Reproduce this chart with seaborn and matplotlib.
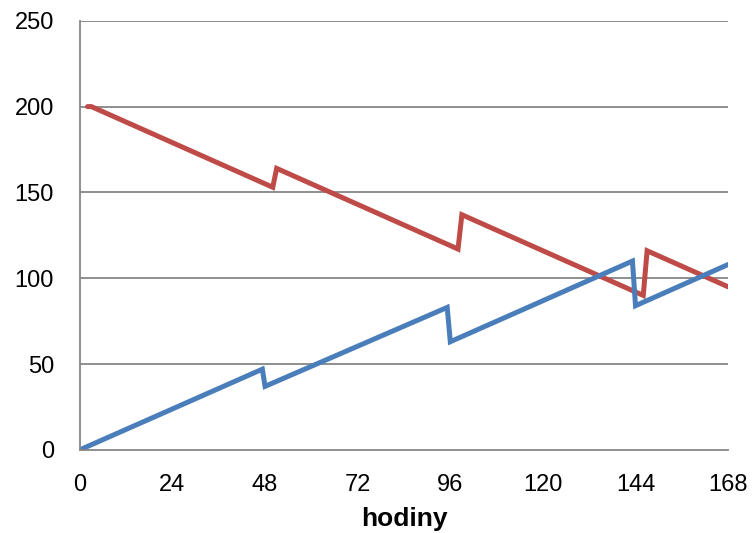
import pandas as pd
import matplotlib
matplotlib.use("Agg")
import matplotlib.pyplot as plt
import seaborn as sns

# values
blue_hours = [0, 47.3, 48, 95.2, 96, 143.2, 144, 168]
blue_values = [0, 47, 37, 83, 63, 110, 84, 108]
red_hours = [2, 3, 50, 51, 98, 99, 146, 147, 168]
red_values = [200, 200, 153, 164, 117, 137, 90, 116, 95]
x_ticks = [0, 24, 48, 72, 96, 120, 144, 168]
y_ticks = [0, 50, 100, 150, 200, 250]

sns.set_style("white")
plt.rcParams["font.family"] = ["Liberation Sans", "DejaVu Sans"]

blue_df = pd.DataFrame({"hodiny": blue_hours, "value": blue_values})
red_df = pd.DataFrame({"hodiny": red_hours, "value": red_values})

fig = plt.figure(figsize=(7.53, 5.33), dpi=100)
ax = fig.add_axes([0.106, 0.156, 0.861, 0.805])

for y in y_ticks[1:]:
    ax.axhline(y, color="#868686", lw=1.3, zorder=0)

sns.lineplot(data=red_df, x="hodiny", y="value", sort=False, color="#BE4B48",
             lw=3.6, ax=ax, solid_joinstyle="miter", solid_capstyle="round")
sns.lineplot(data=blue_df, x="hodiny", y="value", sort=False, color="#4A7EBB",
             lw=3.6, ax=ax, solid_joinstyle="miter", solid_capstyle="round")

ax.set_xlim(0, 168)
ax.set_ylim(0, 250)
ax.set_xticks(x_ticks)
ax.set_yticks(y_ticks)
ax.tick_params(axis="both", labelsize=17, labelcolor="black", color="#868686",
               length=5.5, width=1.3, direction="out")
ax.tick_params(axis="x", pad=12)
ax.tick_params(axis="y", pad=13)
ax.set_xlabel("hodiny", fontsize=19, fontweight="bold", labelpad=8, color="black")
ax.set_ylabel("")

for side in ["top", "right"]:
    ax.spines[side].set_visible(False)
for side in ["left", "bottom"]:
    ax.spines[side].set_color("#868686")
    ax.spines[side].set_linewidth(1.3)

fig.savefig("out.png", dpi=100)
